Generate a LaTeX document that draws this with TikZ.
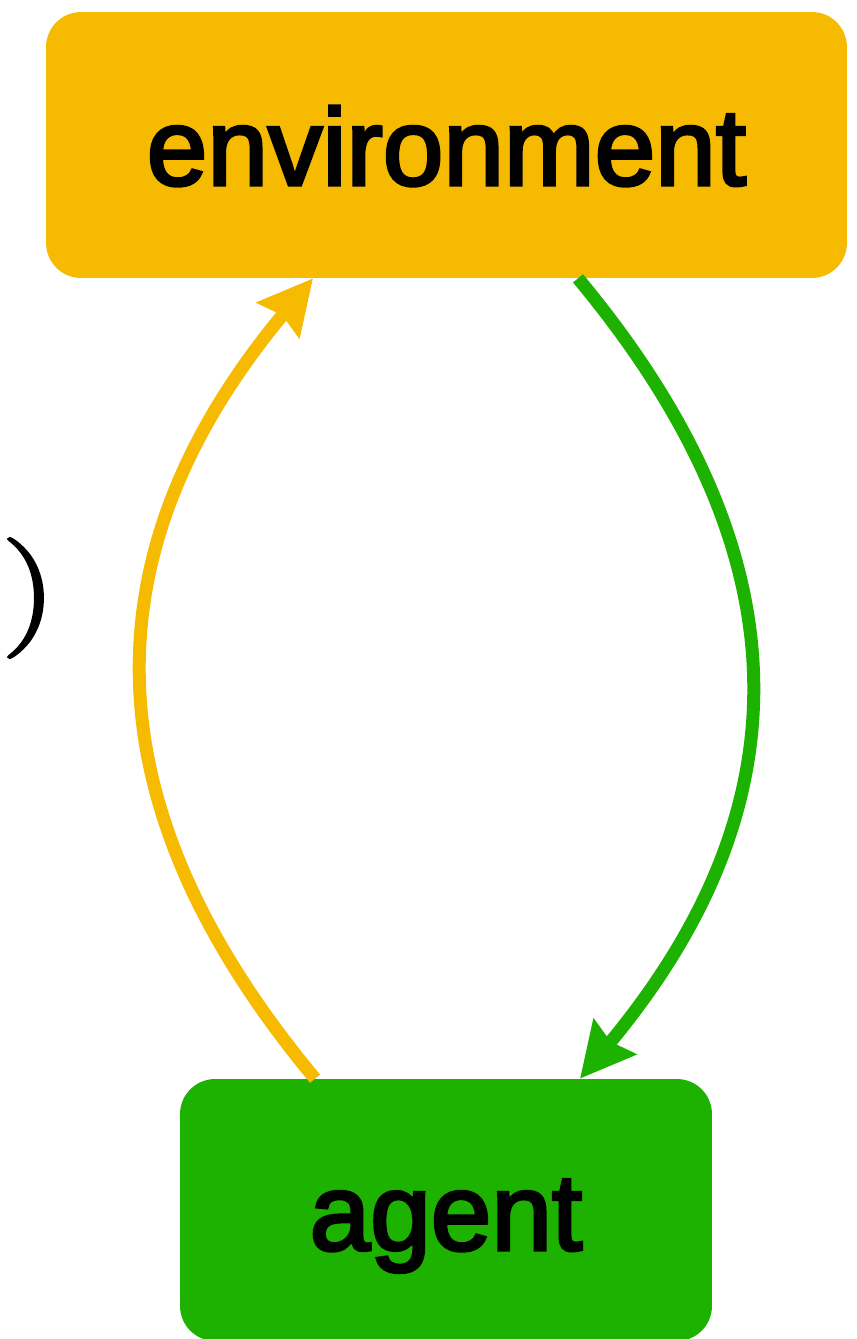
\documentclass[tikz,border=0pt]{standalone}
\usepackage{fontspec}
\usepackage{graphicx}
\setmainfont{Latin Modern Roman}
\newfontfamily\boxfont[FakeBold=3]{Liberation Sans}
\newfontfamily\parenfont[FakeBold=2]{Latin Modern Roman}
\usepackage{tikz}
\usetikzlibrary{arrows.meta,positioning,calc}
\definecolor{envYellow}{HTML}{F6BA00}
\definecolor{agentGreen}{HTML}{1DB100}
\tikzset{
  rl/box/.style={rounded corners=0.7cm, align=center, inner sep=0pt, text depth=0pt, text height=1.6cm,
    font=\boxfont\fontsize{62}{70}\selectfont},
  rl/env/.style={rl/box, fill=envYellow, minimum width=16.02cm, minimum height=5.32cm},
  rl/agent/.style={rl/box, fill=agentGreen, minimum width=10.64cm, minimum height=5.24cm},
  rl/arr/.style={line width=0.26cm, -{Stealth[length=1.08cm, width=1.08cm, inset=0.12cm]}}
}

\begin{document}
\begin{tikzpicture}[x=0.02cm, y=-0.02cm]
  \useasboundingbox (0,0) rectangle (857,1339);
  \node[rl/env] (env) at (446.5,145) {environment};
  \node[rl/agent] (agent) at (446,1210) {agent};
  \node[inner sep=0pt, font=\parenfont\fontsize{68}{80}\selectfont] (paren) at (29,598) {\scalebox{1.3}[1]{)}};

  \draw[rl/arr, envYellow] ([xshift=-2.62cm]agent.north)
    .. controls +(-228,-274) and +(-228,274) .. ([xshift=-2.67cm]env.south);
  \draw[rl/arr, agentGreen] ([xshift=2.63cm]env.south)
    .. controls +(228,274) and +(228,-274) .. ([xshift=2.68cm]agent.north);
\end{tikzpicture}
\end{document}
